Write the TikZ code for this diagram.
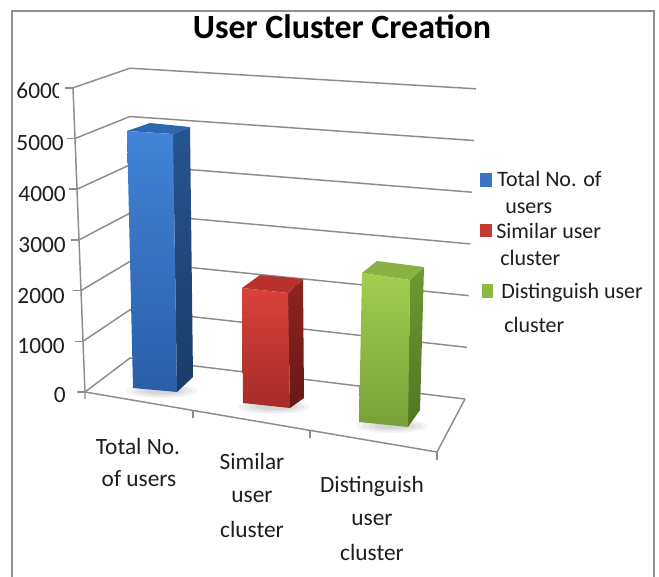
\documentclass[tikz,border=0pt]{standalone}
\usepackage{fontspec}
\setmainfont{Carlito}
\definecolor{gridgray}{HTML}{8C8C8C}
\definecolor{framegray}{HTML}{8F8F8F}
\definecolor{txt}{HTML}{1E1E1E}
\definecolor{blueA}{HTML}{4284D6}
\definecolor{blueB}{HTML}{2A5EA8}
\definecolor{blueR1}{HTML}{26548F}
\definecolor{blueR2}{HTML}{1B3C69}
\definecolor{blueT}{HTML}{2F66AE}
\definecolor{redA}{HTML}{D9423B}
\definecolor{redB}{HTML}{A62B27}
\definecolor{redR1}{HTML}{8C2522}
\definecolor{redR2}{HTML}{681918}
\definecolor{redT}{HTML}{B7312D}
\definecolor{grnA}{HTML}{A3CC4F}
\definecolor{grnB}{HTML}{77A138}
\definecolor{grnR1}{HTML}{6E9933}
\definecolor{grnR2}{HTML}{527523}
\definecolor{grnT}{HTML}{88B241}
\definecolor{legBlue}{HTML}{3B74C2}
\definecolor{legRed}{HTML}{C23A31}
\definecolor{legGrn}{HTML}{8DB843}
\begin{document}
\begin{tikzpicture}[x=0.75pt,y=-0.75pt,
  grid/.style={draw=gridgray, line width=1.1pt},
  frameline/.style={draw=framegray, line width=1.5pt},
  axislbl/.style={inner sep=0pt, anchor=base east, text=txt, font=\fontsize{17.5}{20}\selectfont},
  catlbl/.style={inner sep=0pt, anchor=base, text=txt, font=\fontsize{17.5}{20}\selectfont},
  leglbl/.style={inner sep=0pt, anchor=base west, text=txt, font=\fontsize{16.5}{20}\selectfont},
  shadowblob/.style={fill=black, opacity=0.045}
]
\useasboundingbox (0,0) rectangle (659,576);

% outer frame (open at the bottom)
\draw[frameline] (12,580) -- (12,11) -- (654,11) -- (654,580);

% title
\node[inner sep=0pt, anchor=base, text=black, font=\fontsize{25.5}{30}\selectfont\bfseries] (title) at (342,38) {User Cluster Creation};

% grid corners: front axis, back-left corner, back-right end
\foreach \v in {0,...,6} {
  \coordinate (F\v) at ({85-2*\v},{392-50.7*\v});
  \coordinate (B\v) at (130,{358-48.3*\v});
  \coordinate (R\v) at ({465+1.8*\v},{399-51.7*\v});
}
\coordinate (FR) at (437,452);
\coordinate (C1) at (193,410.4);
\coordinate (C2) at (310,430.4);

% side and back wall gridlines
\foreach \v in {0,...,6} {
  \draw[grid] (F\v) -- (B\v) -- (R\v);
  \draw[grid] (F\v) -- ++(-8,0);
}
% value axis and floor
\draw[grid] (F6) -- (F0) -- ++(0,7);
\draw[grid] (F0) -- (FR) -- (R0);
\draw[grid] (C1) -- ++(0,8);
\draw[grid] (C2) -- ++(0,8);
\draw[grid] (FR) -- ++(0,8);

% value labels (the top one is cut off at the plot edge)
\begin{scope}
  \clip (0,60) rectangle (58.5,110);
  \node[axislbl] (y6) at (64,98) {6000};
\end{scope}
\node[axislbl] (y5) at (64,150) {5000};
\node[axislbl] (y4) at (66,201.5) {4000};
\node[axislbl] (y3) at (66,252) {3000};
\node[axislbl] (y2) at (65,303) {2000};
\node[axislbl] (y1) at (65,353) {1000};
\node[axislbl] (y0) at (66,402.5) {0};

% soft shadows under the bars
\foreach \cx/\cy in {162/391, 274/407, 392/426} {
  \fill[shadowblob] (\cx,\cy) ellipse (36 and 7);
  \fill[shadowblob] (\cx,\cy) ellipse (30 and 5.5);
  \fill[shadowblob] (\cx,\cy) ellipse (24 and 4);
  \fill[shadowblob] (\cx,\cy) ellipse (18 and 3);
}

% bar 1: Total No. of users
\shade[top color=blueR1, bottom color=blueR2] (173,134) -- (190,127) -- (193,377) -- (177,392) -- cycle;
\fill[blueT] (127,131) -- (150,123) -- (190,127) -- (173,134) -- cycle;
\shade[top color=blueA, bottom color=blueB] (127,131) -- (173,134) -- (177,392) -- (133,388) -- cycle;

% bar 2: Similar user cluster
\shade[top color=redR1, bottom color=redR2] (288,293) -- (303,279) -- (304,398) -- (290,408) -- cycle;
\fill[redT] (242,288) -- (260,275) -- (303,279) -- (288,293) -- cycle;
\shade[top color=redA, bottom color=redB] (242,288) -- (288,293) -- (290,408) -- (243,403) -- cycle;

% bar 3: Distinguish user cluster
\shade[top color=grnR1, bottom color=grnR2] (410,280) -- (424,267) -- (420,410) -- (408,427) -- cycle;
\fill[grnT] (362,273) -- (377,261) -- (424,267) -- (410,280) -- cycle;
\shade[top color=grnA, bottom color=grnB] (362,273) -- (410,280) -- (408,427) -- (359,422) -- cycle;

% category labels
\node[catlbl] (c1a) at (138,454) {Total No.};
\node[catlbl] (c1b) at (139,486) {of users};
\node[catlbl] (c2a) at (252,469) {Similar};
\node[catlbl] (c2b) at (252,502) {user};
\node[catlbl] (c2c) at (252,537) {cluster};
\node[catlbl] (c3a) at (372,492) {Distinguish};
\node[catlbl] (c3b) at (372,525) {user};
\node[catlbl] (c3c) at (372,560) {cluster};

% legend
\fill[legBlue] (480,173) rectangle (492,187);
\fill[legRed] (480,224) rectangle (492,237);
\fill[legGrn] (482,284) rectangle (493,298);
\node[leglbl] (l1a) at (497,186.5) {Total No. of};
\node[leglbl] (l1b) at (505,213) {users};
\node[leglbl] (l2a) at (496,238) {Similar user};
\node[leglbl] (l2b) at (500,265) {cluster};
\node[leglbl] (l3a) at (501,298) {Distinguish user};
\node[leglbl] (l3b) at (504,332) {cluster};
\end{tikzpicture}
\end{document}
